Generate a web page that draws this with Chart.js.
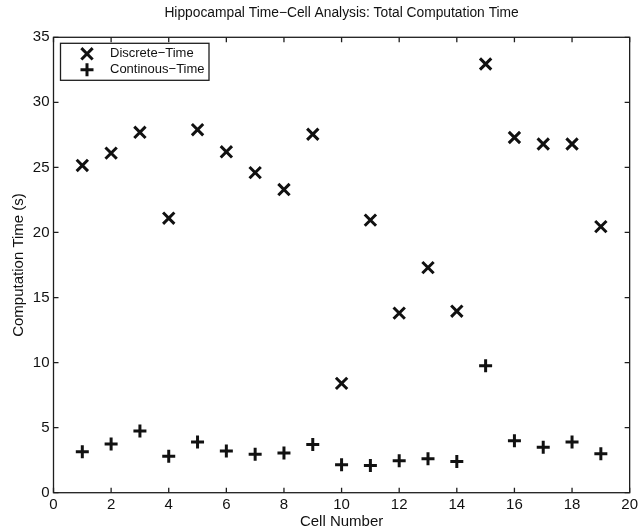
<!DOCTYPE html>
<html>
<head>
<meta charset="utf-8">
<title>Hippocampal Time−Cell Analysis</title>
<script src="https://cdn.jsdelivr.net/npm/chart.js@4/dist/chart.umd.min.js"></script>
<style>
  html, body { margin: 0; padding: 0; background: #fff; }
  canvas { display: block; }
</style>
</head>
<body>
<canvas id="chart" width="641" height="531"></canvas>
<script>
// Cell indices and the total computation time (seconds) of each method
const cellNumbers = [1, 2, 3, 4, 5, 6, 7, 8, 9, 10, 11, 12, 13, 14, 15, 16, 17, 18, 19];
const discreteTime = [25.15, 26.1, 27.7, 21.1, 27.9, 26.2, 24.6, 23.3, 27.55, 8.4, 20.95, 13.8, 17.3, 13.95, 32.95, 27.3, 26.8, 26.8, 20.45];
const continuousTime = [3.15, 3.75, 4.75, 2.8, 3.9, 3.2, 2.95, 3.05, 3.7, 2.15, 2.1, 2.45, 2.6, 2.4, 9.75, 4.0, 3.5, 3.9, 3.0];
const xTickValues = [0, 2, 4, 6, 8, 10, 12, 14, 16, 18, 20];
const yTickValues = [0, 5, 10, 15, 20, 25, 30, 35];

const chartTitle = 'Hippocampal Time−Cell Analysis: Total Computation Time';
const seriesLabels = ['Discrete−Time', 'Continous−Time'];
const FONT = '"Liberation Sans", Arial, Helvetica, sans-serif';
const AXIS_COLOR = '#1e1e1e';
const MARK_COLOR = '#111';

function toPoints(values) {
  return cellNumbers.map((c, i) => ({ x: c, y: values[i] }));
}

// Title centred over the axes box rather than the whole canvas
const axesTitle = {
  id: 'axesTitle',
  afterDraw(chart) {
    const { ctx, chartArea: a } = chart;
    ctx.save();
    ctx.font = '13.8px ' + FONT;
    ctx.fillStyle = MARK_COLOR;
    ctx.textAlign = 'center';
    ctx.textBaseline = 'middle';
    ctx.fillText(chartTitle, (a.left + a.right) / 2, a.top - 24.5);
    ctx.restore();
  }
};

// Box around the axes with inward-pointing ticks on all four sides
const boxAxes = {
  id: 'boxAxes',
  afterDatasetsDraw(chart) {
    const { ctx, chartArea: a, scales: { x, y } } = chart;
    const len = 5;
    ctx.save();
    ctx.strokeStyle = AXIS_COLOR;
    ctx.lineWidth = 1.3;
    ctx.beginPath();
    xTickValues.forEach(v => {
      const px = x.getPixelForValue(v);
      ctx.moveTo(px, a.bottom); ctx.lineTo(px, a.bottom - len);
      ctx.moveTo(px, a.top); ctx.lineTo(px, a.top + len);
    });
    yTickValues.forEach(v => {
      const py = y.getPixelForValue(v);
      ctx.moveTo(a.left, py); ctx.lineTo(a.left + len, py);
      ctx.moveTo(a.right, py); ctx.lineTo(a.right - len, py);
    });
    ctx.stroke();
    ctx.strokeRect(a.left, a.top, a.right - a.left, a.bottom - a.top);
    ctx.restore();
  }
};

// Boxed legend in the upper-left corner of the plot
const boxedLegend = {
  id: 'boxedLegend',
  afterDraw(chart) {
    const { ctx, chartArea: a } = chart;
    const left = a.left + 7, top = a.top + 6, w = 148.5, h = 37;
    ctx.save();
    ctx.fillStyle = '#fff';
    ctx.fillRect(left, top, w, h);
    ctx.strokeStyle = AXIS_COLOR;
    ctx.lineWidth = 1.3;
    ctx.strokeRect(left, top, w, h);
    ctx.font = '13px ' + FONT;
    ctx.textBaseline = 'middle';
    ctx.textAlign = 'left';
    chart.data.datasets.forEach((ds, i) => {
      const cy = top + 10.5 + i * 16;
      ctx.strokeStyle = MARK_COLOR;
      ctx.lineWidth = ds.borderWidth;
      Chart.helpers.drawPoint(ctx, {
        pointStyle: ds.pointStyle,
        radius: ds.pointRadius,
        rotation: 0,
        borderWidth: ds.borderWidth
      }, left + 26.5, cy);
      ctx.fillStyle = MARK_COLOR;
      ctx.fillText(ds.label, left + 49.5, cy);
    });
    ctx.restore();
  }
};

new Chart(document.getElementById('chart'), {
  type: 'scatter',
  data: {
    datasets: [
      {
        label: seriesLabels[0],
        data: toPoints(discreteTime),
        pointStyle: 'crossRot',
        pointRadius: 8,
        pointHoverRadius: 8,
        borderWidth: 3,
        borderColor: MARK_COLOR,
        backgroundColor: MARK_COLOR
      },
      {
        label: seriesLabels[1],
        data: toPoints(continuousTime),
        pointStyle: 'cross',
        pointRadius: 6.5,
        pointHoverRadius: 6.5,
        borderWidth: 3,
        borderColor: MARK_COLOR,
        backgroundColor: MARK_COLOR
      }
    ]
  },
  options: {
    responsive: false,
    animation: false,
    devicePixelRatio: 1,
    layout: { padding: { left: 0, right: 10, top: 37.3, bottom: 0 } },
    plugins: {
      legend: { display: false },
      tooltip: { enabled: false },
      title: { display: false }
    },
    scales: {
      x: {
        type: 'linear',
        min: 0,
        max: 20,
        afterBuildTicks(scale) { scale.ticks = xTickValues.map(v => ({ value: v })); },
        afterFit(scale) { scale.height = 38.3; },
        grid: { display: false, drawTicks: false },
        border: { display: false },
        ticks: { color: '#111', padding: 3, maxRotation: 0, font: { family: FONT, size: 15 } },
        title: {
          display: true,
          text: 'Cell Number',
          color: '#111',
          font: { family: FONT, size: 15 },
          padding: { top: 0, bottom: 0 }
        }
      },
      y: {
        type: 'linear',
        min: 0,
        max: 35,
        afterBuildTicks(scale) { scale.ticks = yTickValues.map(v => ({ value: v })); },
        afterFit(scale) { scale.width = 53.5; },
        grid: { display: false, drawTicks: false },
        border: { display: false },
        ticks: { color: '#111', padding: 4, font: { family: FONT, size: 15 } },
        title: {
          display: true,
          text: 'Computation Time (s)',
          color: '#111',
          font: { family: FONT, size: 15 },
          padding: { top: 10, bottom: 0 }
        }
      }
    }
  },
  plugins: [boxAxes, boxedLegend, axesTitle]
});
</script>
</body>
</html>
